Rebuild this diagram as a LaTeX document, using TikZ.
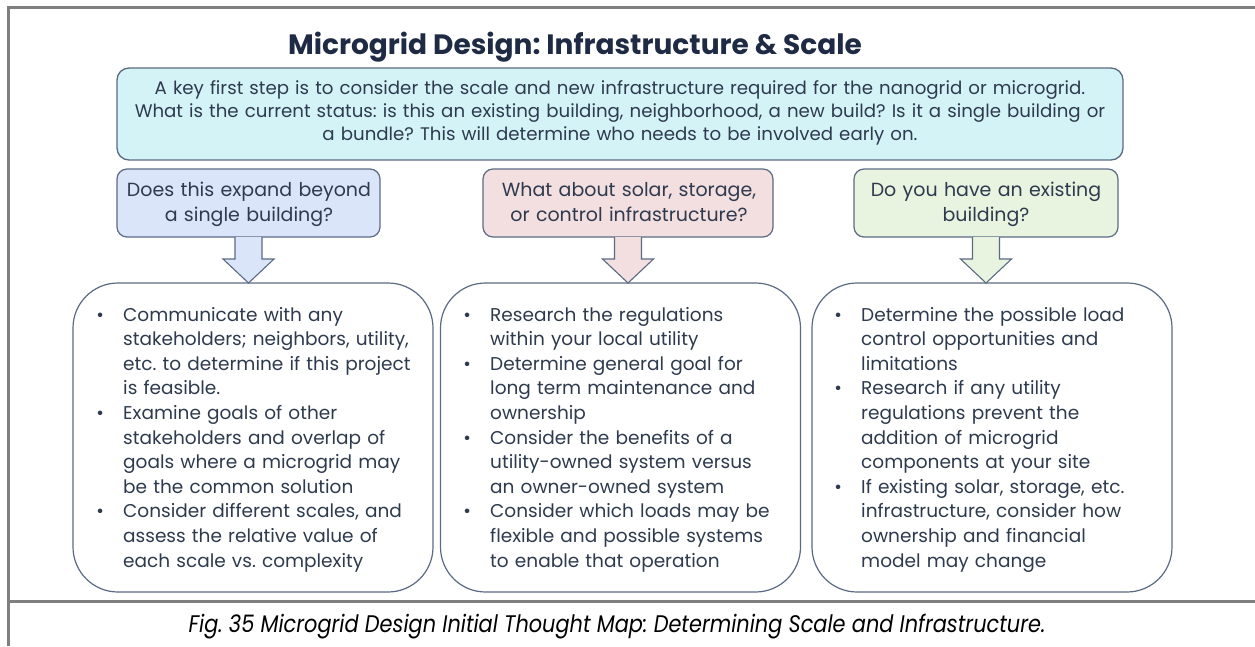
\documentclass[tikz,border=0pt]{standalone}
\usepackage{fontspec}
\setmainfont{Poppins}
\newfontfamily\capfont[FakeStretch=0.87]{Poppins}
\usetikzlibrary{calc}
\definecolor{titlec}{HTML}{1F2A44}
\definecolor{txt}{HTML}{2E3A4E}
\definecolor{edge}{HTML}{5B6B84}
\definecolor{cyanf}{HTML}{D4F3F7}
\definecolor{bluef}{HTML}{DAE5FA}
\definecolor{pinkf}{HTML}{F3DEE0}
\definecolor{greenf}{HTML}{E8F4E0}
\definecolor{framec}{HTML}{7F7F7F}
\newcommand\bul{\leavevmode\llap{\makebox[0pt]{\textbullet}\hspace{23pt}}}
\frenchspacing
\begin{document}
\begin{tikzpicture}[x=1pt,y=1pt,
  frameline/.style={draw=framec,line width=3pt},
  topbox/.style={draw=edge,line width=1.3pt,fill=cyanf,rounded corners=12pt,inner sep=0,outer sep=0},
  qbox/.style={draw=edge,line width=1.2pt,rounded corners=10pt,inner sep=0,outer sep=0,minimum height=68pt},
  bigbox/.style={draw=edge,line width=1.2pt,fill=white,rounded corners=45pt,inner sep=0,outer sep=0,minimum width=360pt,minimum height=309pt},
  blockarr/.style={draw=edge,line width=1.1pt,line join=miter},
  titletext/.style={font=\fontsize{28}{34}\selectfont\bfseries,text=titlec,inner sep=0},
  toptext/.style={font=\fontsize{18.2}{23}\selectfont,text=txt,inner sep=0,text width=1000pt,align=center},
  qtext/.style={font=\fontsize{19}{25.7}\selectfont,text=txt,inner sep=0,text width=300pt,align=center},
  bultext/.style={font=\fontsize{18.5}{24.6}\selectfont,text=txt,inner sep=0,text width=330pt,align=left},
  captext/.style={font=\capfont\itshape\fontsize{24}{28}\selectfont,text=black,inner sep=0}
]
\useasboundingbox (0,0) rectangle (1255,-646);
\fill[white] (0,0) rectangle (1255,-646);
\draw[frameline] (8,-646) -- (8,-7.5) -- (1255,-7.5);
\draw[frameline] (8,-601) -- (1255,-601);

\node[titletext,anchor=base] (title) at (575,-54) {Microgrid Design: Infrastructure \& Scale};

\node[topbox,minimum width=1006pt,minimum height=92pt] (top) at (620,-114) {};
\node[toptext,anchor=base] (toptxt) at (620,-94) {A key first step is to consider the scale and new infrastructure required for the nanogrid or microgrid.\\
What is the current status: is this an existing building, neighborhood, a new build? Is it a single building or\\
a bundle? This will determine who needs to be involved early on.};

\node[qbox,fill=bluef,minimum width=263pt] (q1) at (248.5,-203) {};
\node[qbox,fill=pinkf,minimum width=290pt] (q2) at (628,-203) {};
\node[qbox,fill=greenf,minimum width=264pt] (q3) at (986,-203) {};
\node[qtext,anchor=base] (q1t) at (249,-196) {Does this expand beyond\\ a single building?};
\node[qtext,anchor=base] (q2t) at (629,-196) {What about solar, storage,\\ or control infrastructure?};
\node[qtext,anchor=base] (q3t) at (986,-196) {Do you have an existing\\ building?};

\node[bigbox] (b1) at (253,-437.5) {};
\node[bigbox] (b2) at (620.5,-437.5) {};
\node[bigbox] (b3) at (992,-437.5) {};

\foreach \q/\b/\f in {q1/b1/bluef,q2/b2/pinkf,q3/b3/greenf}{
  \draw[blockarr,fill=\f] ($(\q.south)+(-13.5,0)$) -- ++(0,-22) -- ++(-12,0)
    -- (\q.south |- \b.north) -- ($(\q.south)+(25.5,-22)$) -- ++(-12,0)
    -- ($(\q.south)+(13.5,0)$);
}

\node[bultext,anchor=base west] (b1t) at (123,-321) {\bul Communicate with any\\
stakeholders; neighbors, utility,\\
etc. to determine if this project\\
is feasible.\\
\bul Examine goals of other\\
stakeholders and overlap of\\
goals where a microgrid may\\
be the common solution\\
\bul Consider different scales, and\\
assess the relative value of\\
each scale vs. complexity};

\node[bultext,anchor=base west] (b2t) at (490,-321) {\bul Research the regulations\\
within your local utility\\
\bul Determine general goal for\\
long term maintenance and\\
ownership\\
\bul Consider the benefits of a\\
utility-owned system versus\\
an owner-owned system\\
\bul Consider which loads may be\\
flexible and possible systems\\
to enable that operation};

\node[bultext,anchor=base west] (b3t) at (861,-321) {\bul Determine the possible load\\
control opportunities and\\
limitations\\
\bul Research if any utility\\
regulations prevent the\\
addition of microgrid\\
components at your site\\
\bul If existing solar, storage, etc.\\
infrastructure, consider how\\
ownership and financial\\
model may change};

\node[captext,anchor=base] (cap) at (617,-632) {Fig. 35 Microgrid Design Initial Thought Map: Determining Scale and Infrastructure.};
\end{tikzpicture}
\end{document}
